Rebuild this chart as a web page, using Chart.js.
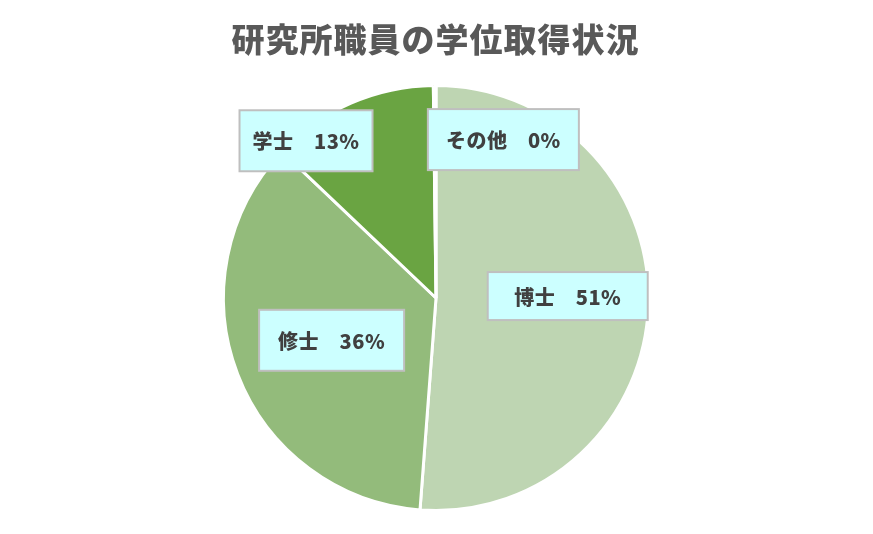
<!DOCTYPE html>
<html>
<head>
<meta charset="utf-8">
<script src="https://cdn.jsdelivr.net/npm/chart.js@4.4.0/dist/chart.umd.min.js"></script>
<style>
  html, body { margin: 0; padding: 0; background: #fff; }
  #wrap { width: 873px; height: 534px; }
</style>
</head>
<body>
<div id="wrap"><canvas id="degrees"></canvas></div>
<script>
const chartTitle = "研究所職員の学位取得状況";
const categories = ["博士", "修士", "学士", "その他"];
const shares = [51.2, 35.9, 12.7, 0.2];
const sliceColors = ["#bed5b2", "#93bb7b", "#6aa442", "#4e7d30"];

// label box placement, relative to each slice (angle shift in degrees, radius factor, box size)
const labelBoxes = [
  { shift: -3, r: 0.62, w: 160, h: 48 },
  { shift: -1, r: 0.53, w: 145, h: 61 },
  { shift: -16, r: 0.96, w: 133, h: 61 },
  { shift: 23.4, r: 0.81, w: 151, h: 61 }
];

const titlePlugin = {
  id: "customTitle",
  afterDraw(chart) {
    const ctx = chart.ctx;
    ctx.save();
    ctx.font = "900 33px 'Noto Sans CJK JP'";
    ctx.fillStyle = "#595959";
    ctx.textAlign = "center";
    ctx.textBaseline = "middle";
    if ("letterSpacing" in ctx) ctx.letterSpacing = "1px";
    ctx.fillText(chartTitle, chart.width / 2 - 1, 39);
    ctx.restore();
  }
};

const labelPlugin = {
  id: "boxLabels",
  afterDatasetsDraw(chart) {
    const ctx = chart.ctx;
    const meta = chart.getDatasetMeta(0);
    const data = chart.data.datasets[0].data;
    const total = data.reduce((a, b) => a + b, 0);
    ctx.save();
    meta.data.forEach((arc, i) => {
      const box = labelBoxes[i];
      const mid = (arc.startAngle + arc.endAngle) / 2 + box.shift * Math.PI / 180;
      const cx = arc.x + Math.cos(mid) * arc.outerRadius * box.r;
      const cy = arc.y + Math.sin(mid) * arc.outerRadius * box.r;
      const text = chart.data.labels[i] + "\u3000" + Math.round(data[i] / total * 100) + "%";
      ctx.fillStyle = "#ccffff";
      ctx.fillRect(cx - box.w / 2, cy - box.h / 2, box.w, box.h);
      ctx.strokeStyle = "#bfbfbf";
      ctx.lineWidth = 2;
      ctx.strokeRect(cx - box.w / 2, cy - box.h / 2, box.w, box.h);
      ctx.font = "900 20px 'Noto Sans CJK JP'";
      ctx.fillStyle = "#404040";
      ctx.textAlign = "center";
      ctx.textBaseline = "middle";
      if ("letterSpacing" in ctx) ctx.letterSpacing = "0.5px";
      ctx.fillText(text, cx, cy + 1);
    });
    ctx.restore();
  }
};

new Chart(document.getElementById("degrees"), {
  type: "pie",
  data: {
    labels: categories,
    datasets: [{
      data: shares,
      backgroundColor: sliceColors,
      borderColor: "#ffffff",
      borderWidth: 3
    }]
  },
  options: {
    responsive: true,
    maintainAspectRatio: false,
    animation: false,
    layout: { padding: { top: 84, bottom: 22, left: 0, right: 1 } },
    plugins: {
      legend: { display: false },
      tooltip: { enabled: false },
      title: { display: false }
    }
  },
  plugins: [titlePlugin, labelPlugin]
});
</script>
</body>
</html>
